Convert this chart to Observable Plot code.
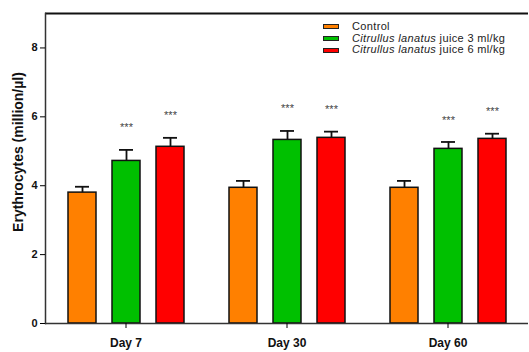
<!DOCTYPE html>
<html>
<head>
<meta charset="utf-8">
<script src="https://cdn.jsdelivr.net/npm/d3@7"></script>
<script src="https://cdn.jsdelivr.net/npm/@observablehq/plot@0.6"></script>
<style>
  html, body { margin: 0; padding: 0; background: #fff; }
  #wrap { position: relative; width: 529px; height: 352px; font-family: "Liberation Sans", Arial, sans-serif; }
  #legend { position: absolute; left: 323px; top: 21px; font-size: 11px; letter-spacing: 0.35px; color: #222; line-height: 11.7px; }
  #legend .row { display: flex; align-items: center; white-space: nowrap; height: 11.7px; }
  #legend .sw { width: 14px; height: 3px; border: 1.5px solid #222; margin-right: 13px; flex: none; }
  #ytitle { position: absolute; left: 18px; top: 152px; transform: translate(-50%, -50%) rotate(-90deg);
    white-space: nowrap; font-size: 14px; font-weight: bold; color: #111; line-height: 15px; }
</style>
</head>
<body>
<div id="wrap">
  <div id="chart"></div>
  <div id="legend"></div>
  <div id="ytitle"></div>
</div>
<script>
const days = ["Day 7", "Day 30", "Day 60"];
const groups = ["Control", "Citrullus lanatus juice 3 ml/kg", "Citrullus lanatus juice 6 ml/kg"];
const colors = ["#FF8000", "#00C000", "#FF0000"];
const meanControl = [3.80, 3.94, 3.94];
const sdControl = [0.17, 0.20, 0.20];
const mean3 = [4.72, 5.33, 5.07];
const sd3 = [0.32, 0.26, 0.20];
const mean6 = [5.13, 5.39, 5.36];
const sd6 = [0.26, 0.18, 0.15];
const sig3 = ["***", "***", "***"];
const sig6 = ["***", "***", "***"];
const yTicks = [0, 2, 4, 6, 8];
const yTitle = "Erythrocytes (million/µl)";

const means = [meanControl, mean3, mean6];
const sds = [sdControl, sd3, sd6];
const sigs = [[], sig3, sig6];
const data = [];
days.forEach((day, i) => {
  groups.forEach((g, j) => {
    data.push({day, group: g, mean: means[j][i], sd: sds[j][i], sig: sigs[j][i] || ""});
  });
});

const chart = Plot.plot({
  width: 529,
  height: 352,
  marginLeft: 44,
  marginRight: 0,
  marginTop: 13,
  marginBottom: 29,
  style: {fontFamily: "'Liberation Sans', Arial, sans-serif", background: "#fff"},
  fx: {domain: days, paddingInner: 0, paddingOuter: 0, axis: null},
  x: {domain: groups, paddingInner: 0.37, paddingOuter: 0.505, axis: null},
  y: {domain: [0, 9], axis: null},
  color: {domain: groups, range: colors},
  marks: [
    Plot.barY(data, {fx: "day", x: "group", y: "mean", fill: "group", stroke: "#111", strokeWidth: 1.5}),
    Plot.ruleX(data, {fx: "day", x: "group", y1: "mean", y2: d => d.mean + d.sd, stroke: "#111", strokeWidth: 1.8}),
    Plot.tickY(data, {fx: "day", x: "group", y: d => d.mean + d.sd, stroke: "#111", strokeWidth: 1.8, insetLeft: 7, insetRight: 7}),
    Plot.text(data, {fx: "day", x: "group", y: d => d.mean + d.sd, text: "sig", dy: -22, fontSize: 11, fill: "#444"}),
    Plot.ruleY([0], {stroke: "#333", strokeWidth: 1.5}),
    Plot.ruleY([9], {stroke: "#111", strokeWidth: 2}),
    Plot.frame({anchor: "left", facetAnchor: "left", stroke: "#333", strokeWidth: 1.5}),
    Plot.axisY({ticks: yTicks, tickSize: 5, tickPadding: 3, fontSize: 11, fontWeight: "bold", fill: "#111", label: null}),
    Plot.axisFx({anchor: "bottom", tickSize: 5, tickPadding: 10, fontSize: 12, fontWeight: "bold", fill: "#111", label: null})
  ]
});
document.getElementById("chart").appendChild(chart);
document.getElementById("ytitle").textContent = yTitle;

const legend = document.getElementById("legend");
groups.forEach((g, j) => {
  const row = document.createElement("div");
  row.className = "row";
  const sw = document.createElement("span");
  sw.className = "sw";
  sw.style.background = colors[j];
  row.appendChild(sw);
  const label = document.createElement("span");
  if (g.startsWith("Citrullus lanatus")) {
    const it = document.createElement("i");
    it.textContent = "Citrullus lanatus";
    label.appendChild(it);
    label.appendChild(document.createTextNode(g.slice("Citrullus lanatus".length)));
  } else {
    label.textContent = g;
  }
  row.appendChild(label);
  legend.appendChild(row);
});
</script>
</body>
</html>
